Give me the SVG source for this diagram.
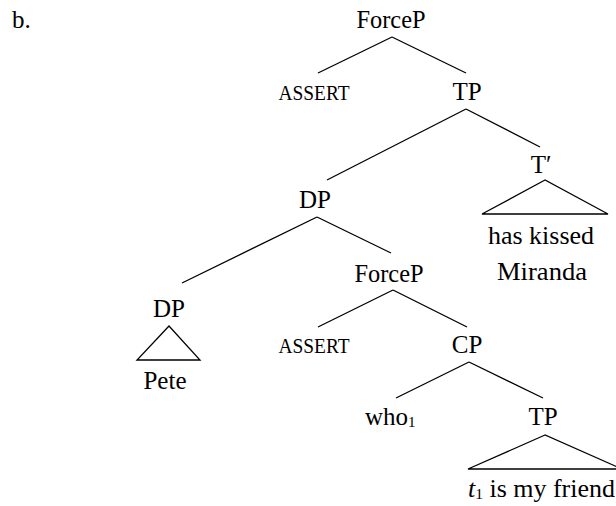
<svg xmlns="http://www.w3.org/2000/svg" width="616" height="506" viewBox="0 0 616 506">
<style>
text{font-family:"Liberation Serif","Times New Roman",serif;font-size:25px;fill:#000;text-anchor:middle}
.sc{font-size:21px}
.l{text-anchor:start}
.sub{font-size:15px}
#edges line,#edges polygon{stroke:#000;stroke-width:1.3;fill:none}
</style>
<rect width="616" height="506" fill="#fff"/>
<text class="l" x="12" y="28">b.</text>
<g id="edges">
<line x1="392" y1="37" x2="318" y2="73"/>
<line x1="392" y1="37" x2="466" y2="73"/>
<line x1="466" y1="109" x2="327" y2="180"/>
<line x1="466" y1="109" x2="540" y2="147"/>
<polygon points="545,180 482,214 608,214"/>
<line x1="317" y1="217" x2="182" y2="283"/>
<line x1="317" y1="217" x2="391" y2="253"/>
<polygon points="169,326 137,360 200,360"/>
<line x1="393" y1="290" x2="318" y2="327"/>
<line x1="393" y1="290" x2="467" y2="327"/>
<line x1="469" y1="362" x2="396" y2="398"/>
<line x1="469" y1="362" x2="543" y2="398"/>
<polygon points="545,435 468,469 622,469"/>
</g>
<g id="n-forcep1"><text x="391" y="28" textLength="69" lengthAdjust="spacingAndGlyphs">ForceP</text></g>
<g id="n-assert1"><text class="sc" x="314" y="100" textLength="71" lengthAdjust="spacingAndGlyphs">ASSERT</text></g>
<g id="n-tp1"><text x="467" y="100">TP</text></g>
<g id="n-dp1"><text x="315" y="208">DP</text></g>
<g id="n-tbar"><text x="541" y="173">T′</text></g>
<g id="n-haskissed"><text x="541" y="244" textLength="106" lengthAdjust="spacingAndGlyphs">has kissed</text><text x="542" y="280" textLength="90" lengthAdjust="spacingAndGlyphs">Miranda</text></g>
<g id="n-forcep2"><text x="389" y="282" textLength="69" lengthAdjust="spacingAndGlyphs">ForceP</text></g>
<g id="n-dp2"><text x="169" y="317">DP</text></g>
<g id="n-pete"><text x="165" y="389">Pete</text></g>
<g id="n-assert2"><text class="sc" x="314" y="353" textLength="71" lengthAdjust="spacingAndGlyphs">ASSERT</text></g>
<g id="n-cp"><text x="467" y="353">CP</text></g>
<g id="n-who"><text class="l" x="365" y="425">who<tspan class="sub" dy="2">1</tspan></text></g>
<g id="n-tp2"><text x="543" y="425">TP</text></g>
<g id="n-friend"><text class="l" x="468" y="497" textLength="147" lengthAdjust="spacingAndGlyphs"><tspan font-style="italic">t</tspan><tspan class="sub" dy="2">1</tspan><tspan dy="-2"> is my friend</tspan></text></g>
</svg>
